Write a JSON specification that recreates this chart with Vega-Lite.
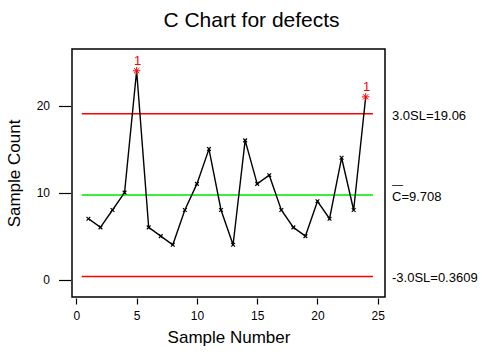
{
  "$schema": "https://vega.github.io/schema/vega-lite/v6.json",
  "width": 313,
  "height": 248,
  "autosize": {"type": "none"},
  "padding": {"left": 72, "top": 49, "right": 98, "bottom": 59},
  "background": "white",
  "config": {
    "font": "Liberation Sans",
    "view": {"stroke": "black", "strokeWidth": 1.5},
    "axis": {"grid": false, "domain": false, "tickColor": "black", "tickWidth": 1.2, "labelColor": "black", "titleColor": "black", "labelFont": "Liberation Sans", "titleFont": "Liberation Sans", "labelFontSize": 12, "titleFontSize": 17, "titleFontWeight": "normal"}
  },
  "title": {"text": "C Chart for defects", "fontSize": 21, "fontWeight": "normal", "font": "Liberation Sans", "offset": 18, "dx": 23, "color": "black", "anchor": "middle"},
  "datasets": {
    "pts": [
      {"n": 1, "c": 7, "out": "no"}, {"n": 2, "c": 6, "out": "no"}, {"n": 3, "c": 8, "out": "no"},
      {"n": 4, "c": 10, "out": "no"}, {"n": 5, "c": 24, "out": "yes"}, {"n": 6, "c": 6, "out": "no"},
      {"n": 7, "c": 5, "out": "no"}, {"n": 8, "c": 4, "out": "no"}, {"n": 9, "c": 8, "out": "no"},
      {"n": 10, "c": 11, "out": "no"}, {"n": 11, "c": 15, "out": "no"}, {"n": 12, "c": 8, "out": "no"},
      {"n": 13, "c": 4, "out": "no"}, {"n": 14, "c": 16, "out": "no"}, {"n": 15, "c": 11, "out": "no"},
      {"n": 16, "c": 12, "out": "no"}, {"n": 17, "c": 8, "out": "no"}, {"n": 18, "c": 6, "out": "no"},
      {"n": 19, "c": 5, "out": "no"}, {"n": 20, "c": 9, "out": "no"}, {"n": 21, "c": 7, "out": "no"},
      {"n": 22, "c": 14, "out": "no"}, {"n": 23, "c": 8, "out": "no"}, {"n": 24, "c": 21, "out": "yes"}
    ],
    "limits": [
      {"name": "UCL", "v": 19.06, "label": "3.0SL=19.06", "x0": 0.45, "x1": 24.6},
      {"name": "CL", "v": 9.708, "label": "C=9.708", "x0": 0.45, "x1": 24.6},
      {"name": "LCL", "v": 0.3609, "label": "-3.0SL=0.3609", "x0": 0.45, "x1": 24.6}
    ]
  },
  "layer": [
    {
      "data": {"name": "limits"},
      "transform": [{"filter": "datum.name !== 'CL'"}],
      "mark": {"type": "rule", "strokeWidth": 1.5, "color": "#ff0000"},
      "encoding": {
        "x": {"field": "x0", "type": "quantitative", "scale": {"domain": [-0.36, 25.6], "nice": false, "zero": false}, "axis": {"values": [0, 5, 10, 15, 20, 25], "title": "Sample Number", "offset": 1, "tickSize": 6, "labelPadding": 6, "titlePadding": 8}},
        "x2": {"field": "x1"},
        "y": {"field": "v", "type": "quantitative", "scale": {"domain": [-2, 26.5], "nice": false, "zero": false}, "axis": {"values": [0, 10, 20], "title": "Sample Count", "offset": 1.5, "tickSize": 12, "labelPadding": 9, "titlePadding": 13}}
      }
    },
    {
      "data": {"name": "limits"},
      "transform": [{"filter": "datum.name === 'CL'"}],
      "mark": {"type": "rule", "strokeWidth": 2, "color": "#38f038"},
      "encoding": {
        "x": {"field": "x0", "type": "quantitative"},
        "x2": {"field": "x1"},
        "y": {"field": "v", "type": "quantitative"}
      }
    },
    {
      "data": {"name": "limits"},
      "mark": {"type": "text", "align": "left", "baseline": "middle", "dx": 7, "dy": 2, "fontSize": 13, "color": "black", "clip": false},
      "encoding": {
        "x": {"datum": 25.6, "type": "quantitative"},
        "y": {"field": "v", "type": "quantitative"},
        "text": {"field": "label"}
      }
    },
    {
      "data": {"values": [{"v": 9.708, "t": "—"}]},
      "mark": {"type": "text", "align": "left", "baseline": "bottom", "dx": 7, "dy": -5, "fontSize": 11, "color": "black", "clip": false},
      "encoding": {
        "x": {"datum": 25.6, "type": "quantitative"},
        "y": {"field": "v", "type": "quantitative"},
        "text": {"field": "t"}
      }
    },
    {
      "data": {"name": "pts"},
      "mark": {"type": "line", "color": "black", "strokeWidth": 1.4},
      "encoding": {
        "x": {"field": "n", "type": "quantitative"},
        "y": {"field": "c", "type": "quantitative"}
      }
    },
    {
      "data": {"name": "pts"},
      "transform": [{"filter": "datum.out === 'no'"}],
      "mark": {"type": "point", "shape": "M-1,-1L1,1M-1,1L1,-1", "size": 14, "filled": false, "stroke": "black", "strokeWidth": 1.2, "opacity": 1},
      "encoding": {
        "x": {"field": "n", "type": "quantitative"},
        "y": {"field": "c", "type": "quantitative"}
      }
    },
    {
      "data": {"name": "pts"},
      "transform": [{"filter": "datum.out === 'yes'"}],
      "mark": {"type": "point", "shape": "M-1,0L1,0M0,-1L0,1M-0.7,-0.7L0.7,0.7M-0.7,0.7L0.7,-0.7", "size": 55, "filled": false, "stroke": "#ff0000", "strokeWidth": 1, "opacity": 1},
      "encoding": {
        "x": {"field": "n", "type": "quantitative"},
        "y": {"field": "c", "type": "quantitative"}
      }
    },
    {
      "data": {"name": "pts"},
      "transform": [{"filter": "datum.out === 'yes'"}],
      "mark": {"type": "text", "dy": -10, "fontSize": 13, "color": "#ff0000", "baseline": "middle", "dx": 1},
      "encoding": {
        "x": {"field": "n", "type": "quantitative"},
        "y": {"field": "c", "type": "quantitative"},
        "text": {"value": "1"}
      }
    }
  ]
}
